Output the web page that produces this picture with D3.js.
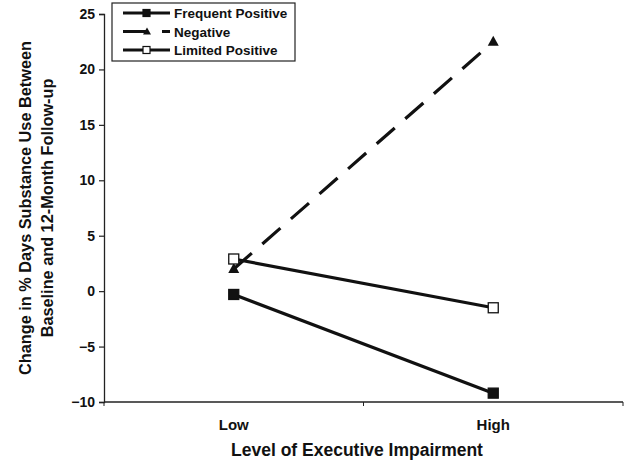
<!DOCTYPE html>
<html><head><meta charset="utf-8">
<script src="https://cdn.jsdelivr.net/npm/d3@7"></script>
<style>
html,body{margin:0;padding:0;background:#fff;}
text{font-family:"Liberation Sans",Arial,sans-serif;font-weight:bold;fill:#111;}
</style></head><body>
<svg id="c" width="626" height="463"></svg>
<script>
const categories = ["Low", "High"];
const seriesNames = ["Frequent Positive", "Negative", "Limited Positive"];
const frequentPositive = [-0.3, -9.2];
const negative = [2.0, 22.5];
const limitedPositive = [2.9, -1.5];
const yTicks = [-10, -5, 0, 5, 10, 15, 20, 25];
const yTitle = ["Change in % Days Substance Use Between", "Baseline and 12-Month Follow-up"];
const xTitle = "Level of Executive Impairment";

const series = [
  {name: seriesNames[1], values: negative, marker: "triangle", dash: "24,14"},
  {name: seriesNames[0], values: frequentPositive, marker: "square", fill: "#111"},
  {name: seriesNames[2], values: limitedPositive, marker: "square", fill: "#fff"}
];

const svg = d3.select("#c");
const pLeft = 104, pRight = 623, pTop = 14, pBottom = 402;
const x = d3.scaleBand().domain(categories).range([pLeft, pRight]);
const y = d3.scaleLinear().domain([-10, 25]).range([pBottom, pTop]);

// y axis
const yAxis = svg.append("g").attr("transform", `translate(${pLeft},0)`)
  .call(d3.axisLeft(y).tickValues(yTicks).tickSize(5).tickPadding(4));
yAxis.select(".domain").attr("stroke", "#222").attr("stroke-width", 1.3);
yAxis.selectAll(".tick line").attr("stroke", "#222").attr("stroke-width", 1.2);
yAxis.selectAll(".tick text").style("font-size", "14px").attr("fill", "#111");

// x axis
const xg = svg.append("g");
xg.append("line").attr("x1", pLeft).attr("x2", pRight).attr("y1", pBottom).attr("y2", pBottom)
  .attr("stroke", "#222").attr("stroke-width", 1.3);
const bounds = [x(categories[0]), x(categories[1]), x(categories[1]) + x.bandwidth()];
xg.selectAll("line.tk").data(bounds).join("line").attr("class", "tk")
  .attr("x1", d => d).attr("x2", d => d).attr("y1", pBottom).attr("y2", pBottom + 4)
  .attr("stroke", "#222").attr("stroke-width", 1);
xg.selectAll("text").data(categories).join("text")
  .attr("x", d => x(d) + x.bandwidth() / 2).attr("y", 430)
  .attr("text-anchor", "middle").style("font-size", "15px").text(d => d);

// titles
svg.append("text").attr("x", 357).attr("y", 456).attr("text-anchor", "middle")
  .style("font-size", "17.5px").text(xTitle);
const yt = svg.append("g");
yTitle.forEach((t, i) => {
  yt.append("text").attr("transform", `translate(${31 + i * 22},208) rotate(-90)`)
    .attr("text-anchor", "middle").style("font-size", "16.3px").text(t);
});

const cx = d => x(d) + x.bandwidth() / 2;
function drawMarker(g, s, px, py) {
  if (s.marker === "triangle") {
    g.append("path").attr("d", `M${px},${py - 6}L${px + 5.5},${py + 4}L${px - 5.5},${py + 4}Z`)
      .attr("fill", "#111");
  } else {
    g.append("rect").attr("x", px - 5).attr("y", py - 5).attr("width", 10).attr("height", 10)
      .attr("fill", s.fill).attr("stroke", "#111").attr("stroke-width", 1.3);
  }
}

const line = d3.line().x((d, i) => cx(categories[i])).y(d => y(d));
series.forEach(s => {
  const g = svg.append("g");
  g.append("path").datum(s.values).attr("d", line).attr("fill", "none")
    .attr("stroke", "#111").attr("stroke-width", 3.2)
    .attr("stroke-dasharray", s.dash || null);
  s.values.forEach((v, i) => drawMarker(g, s, cx(categories[i]), y(v)));
});

// legend
const lg = svg.append("g");
lg.append("rect").attr("x", 112).attr("y", 3).attr("width", 183).attr("height", 58)
  .attr("fill", "#fff").attr("stroke", "#222").attr("stroke-width", 1.2);
const legendOrder = [series[1], series[0], series[2]];
legendOrder.forEach((s, i) => {
  const ry = 13 + i * 18.5;
  const g = lg.append("g");
  if (s.dash) {
    g.append("line").attr("x1", 123).attr("x2", 147).attr("y1", ry).attr("y2", ry)
      .attr("stroke", "#111").attr("stroke-width", 3);
    g.append("line").attr("x1", 162).attr("x2", 170).attr("y1", ry).attr("y2", ry)
      .attr("stroke", "#111").attr("stroke-width", 3);
  } else {
    g.append("line").attr("x1", 123).attr("x2", 170).attr("y1", ry).attr("y2", ry)
      .attr("stroke", "#111").attr("stroke-width", 3);
  }
  if (s.marker === "triangle") {
    g.append("path").attr("d", `M147,${ry - 4}L151,${ry + 3}L143,${ry + 3}Z`).attr("fill", "#111");
  } else {
    g.append("rect").attr("x", 143).attr("y", ry - 3.5).attr("width", 7).attr("height", 7)
      .attr("fill", s.fill).attr("stroke", "#111").attr("stroke-width", 1.2);
  }
  g.append("text").attr("x", 174).attr("y", ry + 5).style("font-size", "13.5px").text(s.name);
});
</script>
</body></html>
